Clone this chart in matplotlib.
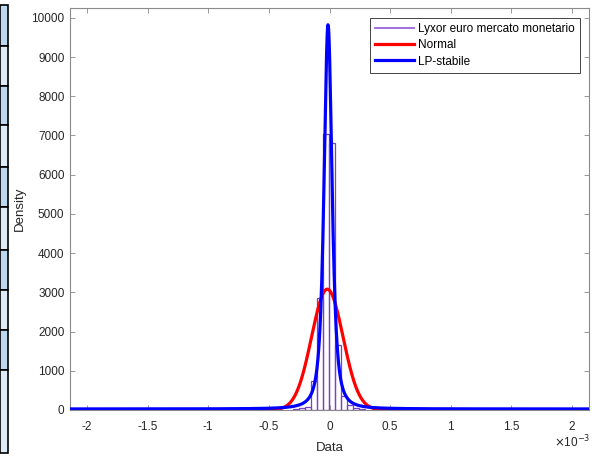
import numpy as np
import matplotlib
matplotlib.use("Agg")
import matplotlib.pyplot as plt
from matplotlib.lines import Line2D
from matplotlib.patches import Rectangle

plt.rcParams['font.family'] = ['Liberation Sans', 'DejaVu Sans']
plt.rcParams['axes.unicode_minus'] = False

# istogramma normalizzato (x in unita' di 1e-3)
bin_centers = [-0.28, -0.23, -0.18, -0.13, -0.08, -0.03, 0.02, 0.07, 0.12, 0.17, 0.22, 0.27]
bin_heights = [20, 40, 84, 746, 2850, 7050, 6800, 1660, 364, 127, 60, 20]
bin_width = 0.05

# parametri della normale stimata
norm_mu = -0.018
norm_sigma = 0.1295

# parametri della stabile (simmetrica) stimata
stab_alpha = 1.3
stab_gamma = 0.030
stab_delta = -0.012

labels = ['Lyxor euro mercato monetario', 'Normal', 'LP-stabile']
xticks = [-2, -1.5, -1, -0.5, 0, 0.5, 1, 1.5, 2]
yticks = list(range(0, 10001, 1000))

W, H = 592, 457
fig = plt.figure(figsize=(W / 100, H / 100), dpi=100)
ax = fig.add_axes([70 / W, 1 - 410 / H, 519 / W, 402 / H])

xs = np.linspace(-2.14, 2.14, 1500)

# normale
norm_pdf = np.exp(-0.5 * ((xs - norm_mu) / norm_sigma) ** 2) / (norm_sigma * np.sqrt(2 * np.pi))

# stabile: inversione numerica della funzione caratteristica
u = np.linspace(0, 25, 5000)
du = u[1] - u[0]
wts = np.exp(-u ** stab_alpha)
stab_pdf = np.empty_like(xs)
for k in range(0, len(xs), 300):
    z = (xs[k:k + 300, None] - stab_delta) / stab_gamma
    stab_pdf[k:k + 300] = (np.cos(u[None, :] * z) * wts[None, :]).sum(axis=1) * du
stab_pdf = stab_pdf / (np.pi * stab_gamma)
stab_pdf = np.clip(stab_pdf, 0, None)

hist_color = '#7b3fc6'
ax.bar(bin_centers, np.array(bin_heights) / 1000, width=bin_width, fill=False,
       edgecolor=hist_color, linewidth=0.9, zorder=2)
ax.plot(xs, norm_pdf, color='red', lw=2.3, zorder=3)
ax.plot(xs, stab_pdf, color='blue', lw=2.3, zorder=4)

ax.set_xlim(-2.14, 2.14)
ax.set_ylim(0, 10.25)
ax.set_xticks(xticks)
ax.set_xticklabels([f"{v:g}" for v in xticks])
ax.set_yticks([v / 1000 for v in yticks])
ax.set_yticklabels([str(v) for v in yticks])
ax.tick_params(direction='in', top=True, right=True, length=3.5, width=0.6,
               colors='#8a8a8a', labelcolor='#262626', labelsize=8.5, pad=4)
ax.tick_params(axis='x', pad=8)
for s in ax.spines.values():
    s.set_color('#8a8a8a')
    s.set_linewidth(0.8)
ax.set_xlabel('Data', fontsize=9.5, color='#262626', labelpad=6.5)
ax.set_ylabel('Density', fontsize=9.5, color='#262626', labelpad=4)
ax.text(1.003, -0.06, r'$\times$10$^{-3}$', transform=ax.transAxes, ha='right', va='top',
        fontsize=8.5, color='#262626')

handles = [Line2D([], [], color='#9a66dd', lw=1.3),
           Line2D([], [], color='red', lw=2.3),
           Line2D([], [], color='blue', lw=2.3)]
leg = ax.legend(handles, labels, loc='upper right', bbox_to_anchor=(0.983, 0.975),
                borderaxespad=0, fontsize=8.5, fancybox=False, framealpha=1,
                handlelength=3.3, handletextpad=0.35, labelspacing=0.35, borderpad=0.45)
leg.get_frame().set_edgecolor('#262626')
leg.get_frame().set_linewidth(0.6)

# striscia laterale (resto della tabella nello screenshot)
strip_y = [5, 46, 86, 125, 167, 207, 250, 290, 330, 370, 453]
for i in range(len(strip_y) - 1):
    col = '#bdd7ee' if i % 2 == 0 else '#ddebf7'
    y0, y1 = strip_y[i], strip_y[i + 1]
    fig.add_artist(Rectangle((0, 1 - y1 / H), 8 / W, (y1 - y0) / H, transform=fig.transFigure,
                             facecolor=col, edgecolor='black', linewidth=1.2))

fig.savefig('out.png', dpi=100)
